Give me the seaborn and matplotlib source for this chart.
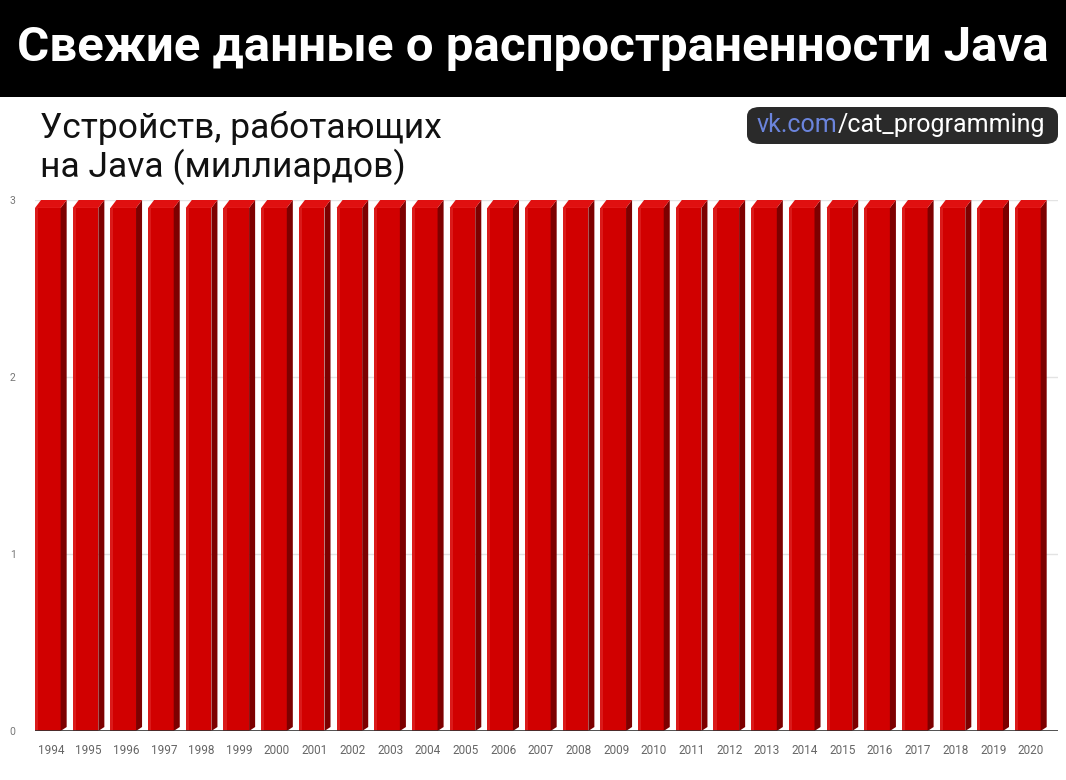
import numpy as np
import pandas as pd
import matplotlib
matplotlib.use("Agg")
import matplotlib.pyplot as plt
import seaborn as sns
from matplotlib.patches import Polygon, Rectangle, FancyBboxPatch

years = [str(y) for y in range(1994, 2021)]
devices = [3] * len(years)  # billions, same every year
y_ticks = [0, 1, 2, 3]

TITLE = "Свежие данные о распространенности Java"
SUBTITLE = "Устройств, работающих\nна Java (миллиардов)"
WM_SITE, WM_PATH = "vk.com", "/cat_programming"

FACE = "#d10000"
SIDE = "#7d0000"
TOP = "#e01010"

sns.set_theme(style="white")
plt.rcParams["font.family"] = ["Roboto", "DejaVu Sans"]

W, H = 1066, 780
fig = plt.figure(figsize=(W / 100, H / 100), dpi=100)
fig.patch.set_facecolor("white")

# black header
fig.patches.append(Rectangle((0, 1 - 97 / H), 1, 97 / H, transform=fig.transFigure,
                             facecolor="black", edgecolor="none", zorder=0))
fig.text(0.5, 1 - 48 / H, TITLE, ha="center", va="center", color="white",
         fontsize=35.5, fontweight="bold")
fig.text(40 / W, 1 - 148 / H, SUBTITLE, ha="left", va="center", color="#111111",
         fontsize=25.5, linespacing=1.1)

# watermark: blue site + white path inside a dark rounded box
renderer = fig.canvas.get_renderer()
t1 = fig.text(757 / W, 1 - 125 / H, WM_SITE, ha="left", va="center", color="#6b84dc",
              fontsize=18, zorder=3)
bb1 = t1.get_window_extent(renderer)
t2 = fig.text(bb1.x1 / W, 1 - 125 / H, WM_PATH, ha="left", va="center", color="white",
              fontsize=18, zorder=3)
bb2 = t2.get_window_extent(renderer)
fig.patches.append(FancyBboxPatch((747 / W, 1 - 144 / H), (1058 - 747) / W, 37 / H,
                                  boxstyle="round,pad=0,rounding_size=0.012",
                                  transform=fig.transFigure, facecolor="#2a2a2a",
                                  edgecolor="none", zorder=2))

ax = fig.add_axes([35 / W, (H - 731) / H, 1023 / W, 531 / H])
df = pd.DataFrame({"year": years, "devices": devices})
sns.barplot(data=df, x="year", y="devices", color=FACE, saturation=1, width=0.68, ax=ax, zorder=3)

# fake 3D: side and top bevel built from each drawn bar
depth_x, depth_y = 0.16, 0.045
for p in ax.patches:
    x0, w, h = p.get_x(), p.get_width(), p.get_height()
    p.set_x(x0 - depth_x / 2)
    x0 = p.get_x()
    p.set_height(h - depth_y)
    p.set_edgecolor("none")
    x1, hf = x0 + w, h - depth_y
    ax.add_patch(Polygon([(x1, 0), (x1 + depth_x, depth_y * 0.5), (x1 + depth_x, h), (x1, hf)],
                         closed=True, facecolor=SIDE, edgecolor="none", zorder=3))
    ax.add_patch(Polygon([(x0, hf), (x0 + depth_x, h), (x1 + depth_x, h), (x1, hf)],
                         closed=True, facecolor=TOP, edgecolor="none", zorder=3))
    ax.add_patch(Rectangle((x0, 0), w * 0.12, hf, facecolor="#da1a1a", edgecolor="none", zorder=3))

ax.set_xlim(-0.42, len(years) - 0.28)
ax.set_ylim(0, 3)
ax.set_yticks(y_ticks)
ax.set_yticklabels([str(t) for t in y_ticks])
for t in y_ticks[1:]:
    ax.axhline(t, color="#e3e3e3", lw=1, zorder=1)
ax.axhline(0, color="#333333", lw=1.2, zorder=4)
ax.set_xlabel("")
ax.set_ylabel("")
ax.tick_params(axis="y", labelsize=7.5, labelcolor="#777777", pad=14, length=0)
ax.tick_params(axis="x", labelsize=8.5, labelcolor="#666666", pad=9, length=0)
for s in ax.spines.values():
    s.set_visible(False)
ax.set_facecolor("white")

fig.savefig("out.png", dpi=100)
